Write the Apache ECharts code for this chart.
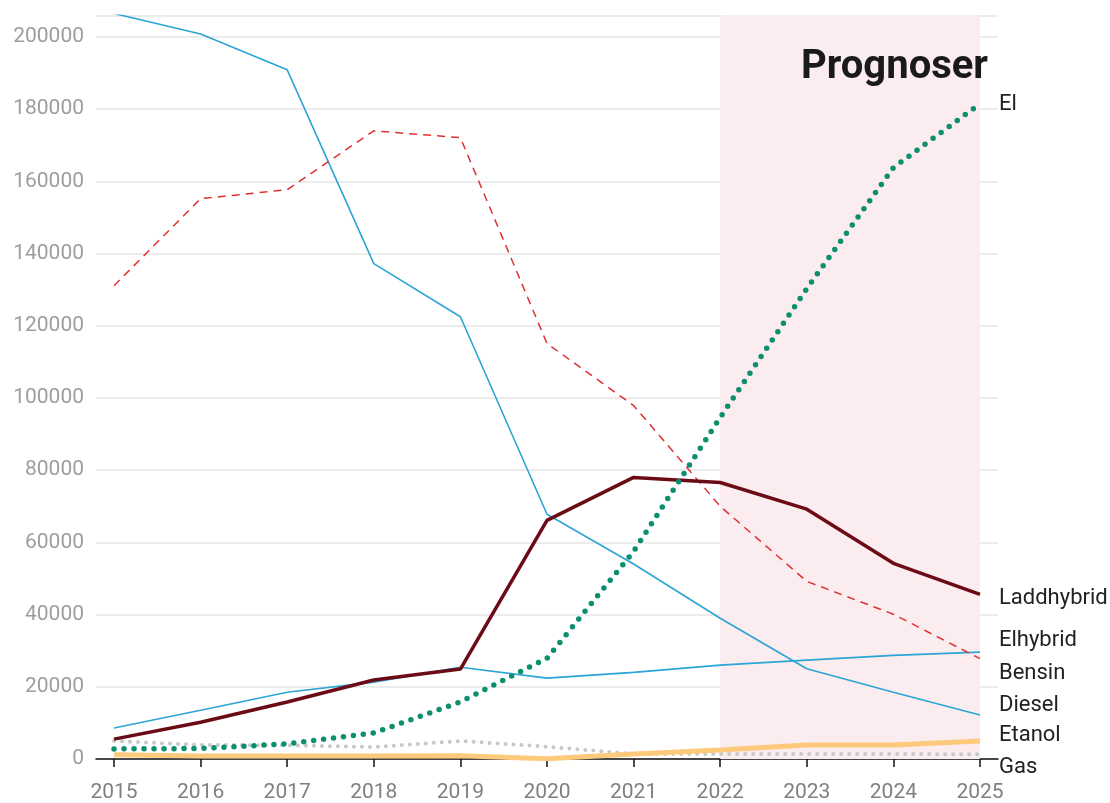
<!DOCTYPE html>
<html>
<head>
<meta charset="utf-8">
<script src="https://cdn.jsdelivr.net/npm/echarts@6/dist/echarts.min.js"></script>
<style>
  html, body { margin: 0; padding: 0; background: #fff; }
  #main-echart { width: 1110px; height: 803px; }
</style>
</head>
<body>
<div id="main-echart"></div>
<script>
// år og verdier (lest av fra figuren)
var years = [2015, 2016, 2017, 2018, 2019, 2020, 2021, 2022, 2023, 2024, 2025];
var yTicks = [0, 20000, 40000, 60000, 80000, 100000, 120000, 140000, 160000, 180000, 200000];

var diesel     = [206500, 200800, 190900, 137200, 122500, 67800, 54000, 39000, 25000, 18500, 12200];
var elhybrid   = [8600, 13500, 18500, 21300, 25400, 22400, 24000, 26000, 27400, 28700, 29600];
var bensin     = [131100, 155200, 157700, 174000, 172100, 115100, 97900, 70000, 49200, 40100, 27800];
var laddhybrid = [5500, 10200, 15800, 21900, 24900, 66100, 78000, 76600, 69200, 54200, 45600];
var el         = [2800, 2900, 4200, 7200, 15800, 27900, 57500, 94600, 130300, 163800, 181500];
var gas        = [5000, 3900, 3800, 3300, 5000, 3400, 1400, 1400, 1400, 1400, 1300];
var etanol     = [1200, 800, 800, 800, 900, 100, 1400, 2500, 3900, 3900, 5000];

var prognoseStart = 2022;
var prognoseEnd = 2025;

function pairs(arr) {
    return arr.map(function (v, i) { return [years[i], v]; });
}

function endLbl(name, dy) {
    return {
        show: true,
        formatter: name,
        distance: 0,
        offset: [19, dy],
        color: '#222',
        fontSize: 22,
        fontFamily: 'Roboto'
    };
}

var chartDom = document.getElementById('main-echart');
var myChart = echarts.init(chartDom);
var option;

option = {
    animation: false,
    textStyle: { fontFamily: 'Roboto' },
    grid: {
        left: 96,
        right: 112,
        top: 15.3,
        bottom: 43,
        containLabel: false
    },
    graphic: [
        {
            type: 'text',
            right: 122,
            top: 48,
            style: {
                text: 'Prognoser',
                font: 'bold 40px Roboto',
                fill: '#1a1a1a'
            },
            z: 100
        }
    ],
    xAxis: {
        type: 'value',
        min: 2014.792,
        max: 2025.208,
        splitLine: { show: false },
        axisLine: { lineStyle: { color: '#111', width: 1.5 } },
        axisTick: {
            show: true,
            customValues: years,
            length: 8,
            lineStyle: { color: '#111', width: 1.5 }
        },
        axisLabel: {
            customValues: years,
            formatter: function (v) { return String(v); },
            color: '#808080',
            fontSize: 21,
            margin: 23
        }
    },
    yAxis: {
        type: 'value',
        min: 0,
        max: 206000,
        interval: 20000,
        axisLine: { show: false },
        axisTick: { show: false },
        axisLabel: {
            customValues: yTicks,
            formatter: function (v) { return String(v); },
            color: '#9d9d9d',
            fontSize: 21,
            margin: 12
        },
        splitLine: {
            customValues: yTicks,
            lineStyle: { color: '#e6e6e6', width: 1.5 }
        }
    },
    series: [
        {
            name: 'Prognose',
            type: 'line',
            data: [],
            markArea: {
                silent: true,
                itemStyle: { color: '#fbecf0' },
                data: [[
                    { xAxis: prognoseStart, yAxis: 0 },
                    { xAxis: prognoseEnd, yAxis: 206000 }
                ]]
            },
            z: 0
        },
        {
            name: 'Gas',
            type: 'line',
            data: pairs(gas),
            symbol: 'none',
            lineStyle: { color: '#c8c8c8', width: 4, type: [0, 8], cap: 'round' },
            endLabel: endLbl('Gas', 13),
            z: 2
        },
        {
            name: 'Etanol',
            type: 'line',
            data: pairs(etanol),
            symbol: 'none',
            lineStyle: { color: '#fdc97a', width: 5 },
            endLabel: endLbl('Etanol', -5),
            z: 3
        },
        {
            name: 'Diesel',
            type: 'line',
            data: pairs(diesel),
            symbol: 'none',
            lineStyle: { color: '#2ba5d5', width: 1.6 },
            endLabel: endLbl('Diesel', -9),
            z: 4
        },
        {
            name: 'Elhybrid',
            type: 'line',
            data: pairs(elhybrid),
            symbol: 'none',
            lineStyle: { color: '#2ba5d5', width: 1.6 },
            endLabel: endLbl('Elhybrid', -12),
            z: 4
        },
        {
            name: 'Bensin',
            type: 'line',
            data: pairs(bensin),
            symbol: 'none',
            lineStyle: { color: '#de3232', width: 1.5, type: [8, 6] },
            endLabel: endLbl('Bensin', 15),
            z: 5
        },
        {
            name: 'Laddhybrid',
            type: 'line',
            data: pairs(laddhybrid),
            symbol: 'none',
            lineStyle: { color: '#6b0b16', width: 3.5 },
            endLabel: endLbl('Laddhybrid', 4),
            z: 6
        },
        {
            name: 'El',
            type: 'line',
            data: pairs(el),
            symbol: 'none',
            lineStyle: { color: '#0b8f6f', width: 5.5, type: [0, 10], cap: 'round' },
            endLabel: endLbl('El', 1),
            z: 7
        }
    ]
};

option && myChart.setOption(option);

window.addEventListener('resize', function () {
    myChart.resize();
});
</script>
</body>
</html>
